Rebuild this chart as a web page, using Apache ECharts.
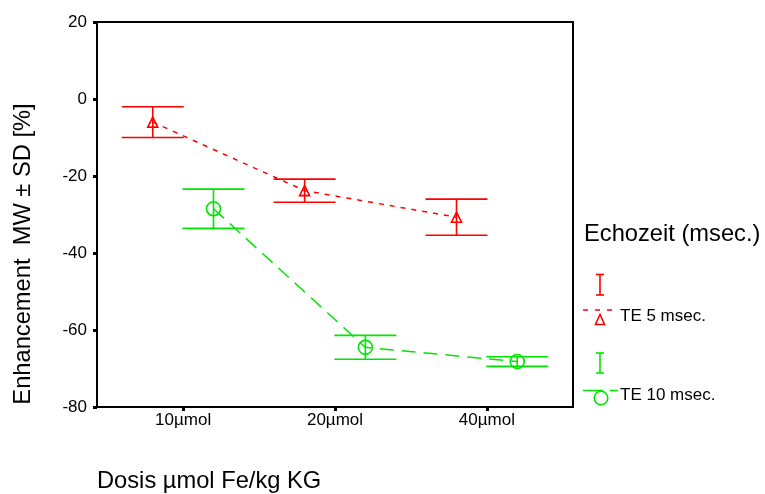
<!DOCTYPE html>
<html><head><meta charset="utf-8">
<script src="https://cdn.jsdelivr.net/npm/echarts@6/dist/echarts.min.js"></script>
<style>html,body{margin:0;padding:0;background:#fff}#c{width:765px;height:494px}</style>
</head><body><div id="c"></div>
<script>
const categories = ['10µmol', '20µmol', '40µmol'];
const te5Mean = [-6.0, -23.8, -30.7];
const te5SD = [4.0, 3.0, 4.7];
const te10Mean = [-28.5, -64.5, -68.2];
const te10SD = [5.1, 3.1, 1.25];
const yTicks = { min: -80, max: 20, step: 20 };
const seriesNames = ['TE 5 msec.', 'TE 10 msec.'];
const legendTitle = 'Echozeit (msec.)';
const xTitle = 'Dosis µmol Fe/kg KG';
const yTitle = 'Enhancement  MW ± SD [%]';

const RED = '#ff0000', GREEN = '#00e600';
const FONT = '"Liberation Sans", Arial, sans-serif';
const OFF = 0.2;

function pts(means, off) { return means.map((m, i) => [i + 1 + off, m]); }
function bars(means, sds, off) { return means.map((m, i) => [i + 1 + off, m - sds[i], m + sds[i]]); }

function errRender(color) {
  return function (params, api) {
    const x = api.value(0), lo = api.value(1), hi = api.value(2);
    const pLo = api.coord([x, lo]), pHi = api.coord([x, hi]);
    const hw = 31;
    const style = { stroke: color, lineWidth: 1.6 };
    return { type: 'group', children: [
      { type: 'line', shape: { x1: pHi[0], y1: pHi[1], x2: pLo[0], y2: pLo[1] }, style },
      { type: 'line', shape: { x1: pHi[0] - hw, y1: pHi[1], x2: pHi[0] + hw, y2: pHi[1] }, style },
      { type: 'line', shape: { x1: pLo[0] - hw, y1: pLo[1], x2: pLo[0] + hw, y2: pLo[1] }, style }
    ]};
  };
}

const chart = echarts.init(document.getElementById('c'), null, { renderer: 'canvas' });
const option = {
  backgroundColor: '#fff',
  animation: false,
  grid: { left: 97, right: 192, top: 22, bottom: 87, show: true, borderColor: '#000', borderWidth: 2 },
  xAxis: {
    type: 'value', min: 0.433, max: 3.567,
    axisLine: { show: true, onZero: false, lineStyle: { color: '#000', width: 2 } },
    axisTick: { show: true, length: 4, customValues: [1, 2, 3], lineStyle: { color: '#000', width: 3 } },
    axisLabel: { customValues: [1, 2, 3], formatter: v => categories[Math.round(v) - 1], color: '#000',
      fontFamily: FONT, fontSize: 17, margin: 5 },
    splitLine: { show: false }
  },
  yAxis: {
    type: 'value', min: yTicks.min, max: yTicks.max, interval: yTicks.step,
    axisLine: { show: true, lineStyle: { color: '#000', width: 2 } },
    axisTick: { show: true, length: 4, lineStyle: { color: '#000', width: 3 } },
    axisLabel: { color: '#000', fontFamily: FONT, fontSize: 17, margin: 10 },
    splitLine: { show: false }
  },
  series: [
    { type: 'custom', name: seriesNames[0] + ' SD', data: bars(te5Mean, te5SD, -OFF),
      encode: { x: 0, y: [1, 2] }, renderItem: errRender(RED), z: 2 },
    { type: 'custom', name: seriesNames[1] + ' SD', data: bars(te10Mean, te10SD, OFF),
      encode: { x: 0, y: [1, 2] }, renderItem: errRender(GREEN), z: 2 },
    { type: 'line', name: seriesNames[0], data: pts(te5Mean, -OFF), z: 3,
      lineStyle: { color: RED, width: 1.5, type: [5, 6] },
      symbol: 'triangle', symbolSize: [10, 10], showSymbol: true,
      itemStyle: { color: 'rgba(0,0,0,0)', borderColor: RED, borderWidth: 1.6 } },
    { type: 'line', name: seriesNames[1], data: pts(te10Mean, OFF), z: 3,
      lineStyle: { color: GREEN, width: 1.5, type: [14, 8] },
      symbol: 'circle', symbolSize: 14, showSymbol: true,
      itemStyle: { color: 'rgba(0,0,0,0)', borderColor: GREEN, borderWidth: 1.6 } }
  ],
  graphic: [
    { type: 'text', x: 23, y: 254, rotation: Math.PI / 2,
      style: { text: yTitle, font: '23.7px ' + FONT, fill: '#000', align: 'center', verticalAlign: 'middle' } },
    { type: 'text', x: 97, y: 481,
      style: { text: xTitle, font: '23.7px ' + FONT, fill: '#000', align: 'left', verticalAlign: 'middle' } },
    { type: 'text', x: 584, y: 234,
      style: { text: legendTitle, font: '23.7px ' + FONT, fill: '#000', align: 'left', verticalAlign: 'middle' } },
    // red legend
    { type: 'line', shape: { x1: 600, y1: 274.5, x2: 600, y2: 295 }, style: { stroke: RED, lineWidth: 1.6 } },
    { type: 'line', shape: { x1: 596, y1: 274.5, x2: 604, y2: 274.5 }, style: { stroke: RED, lineWidth: 1.6 } },
    { type: 'line', shape: { x1: 596, y1: 295, x2: 604, y2: 295 }, style: { stroke: RED, lineWidth: 1.6 } },
    { type: 'line', shape: { x1: 583, y1: 310, x2: 616, y2: 310 }, style: { stroke: RED, lineWidth: 1.5, lineDash: [5, 7] } },
    { type: 'polygon', shape: { points: [[600, 314.5], [595.5, 324.5], [604.5, 324.5]] },
      style: { fill: 'none', stroke: RED, lineWidth: 1.6 } },
    { type: 'text', x: 620, y: 316,
      style: { text: seriesNames[0], font: '17px ' + FONT, fill: '#000', align: 'left', verticalAlign: 'middle' } },
    // green legend
    { type: 'line', shape: { x1: 600, y1: 353, x2: 600, y2: 373 }, style: { stroke: GREEN, lineWidth: 1.6 } },
    { type: 'line', shape: { x1: 596, y1: 353, x2: 604, y2: 353 }, style: { stroke: GREEN, lineWidth: 1.6 } },
    { type: 'line', shape: { x1: 596, y1: 373, x2: 604, y2: 373 }, style: { stroke: GREEN, lineWidth: 1.6 } },
    { type: 'line', shape: { x1: 583, y1: 390.5, x2: 618, y2: 390.5 }, style: { stroke: GREEN, lineWidth: 1.5, lineDash: [20, 7] } },
    { type: 'circle', shape: { cx: 601, cy: 398, r: 6.8 }, style: { fill: '#fff', stroke: GREEN, lineWidth: 1.6 } },
    { type: 'text', x: 620, y: 395,
      style: { text: seriesNames[1], font: '17px ' + FONT, fill: '#000', align: 'left', verticalAlign: 'middle' } }
  ]
};
chart.setOption(option);
</script>
</body></html>
